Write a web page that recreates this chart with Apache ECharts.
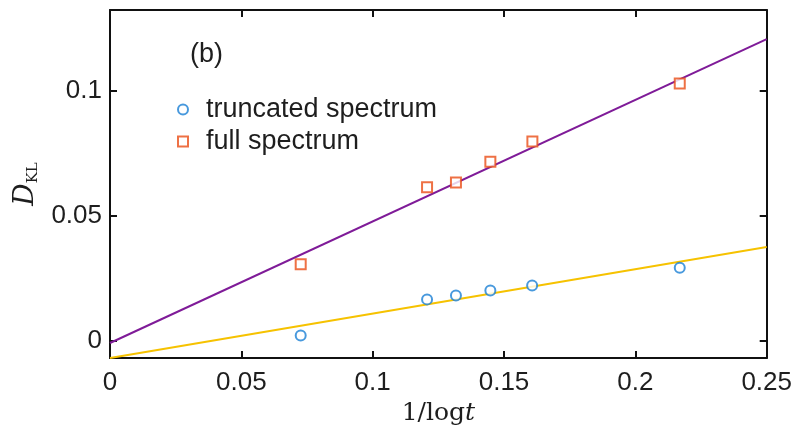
<!DOCTYPE html>
<html>
<head>
<meta charset="utf-8">
<script src="https://cdn.jsdelivr.net/npm/echarts@6/dist/echarts.min.js"></script>
<style>
  html, body { margin: 0; padding: 0; background: #fff; }
  #chart { width: 795px; height: 434px; }
</style>
</head>
<body>
<div id="chart"></div>
<script>
  // 1/log t values and D_KL
  const xTrunc = [0.0726, 0.1207, 0.1317, 0.1448, 0.1607, 0.2169]
  const yTrunc = [0.0020, 0.0165, 0.0181, 0.0201, 0.0221, 0.0292]
  const xFull = [0.0726, 0.1207, 0.1317, 0.1448, 0.1608, 0.2169]
  const yFull = [0.0306, 0.0614, 0.0634, 0.0717, 0.0798, 0.1030]

  // linear fits, end points
  const fitX = [0, 0.25]
  const fitFull = [-0.001, 0.1208]
  const fitTrunc = [-0.007, 0.0375]

  const yTicks = [0, 0.05, 0.1]
  const xTicks = [0, 0.05, 0.1, 0.15, 0.2, 0.25]

  const pairs = (xs, ys) => xs.map((x, i) => [x, ys[i]])

  const sans = 'Liberation Sans, Arial, Helvetica, sans-serif'
  const serif = 'DejaVu Serif, Liberation Serif, serif'
  const labelFont = { fontFamily: sans, fontSize: 26, color: '#1e1e1e' }
  const frameLine = { show: true, onZero: false, lineStyle: { color: '#111', width: 2 } }
  const tick = { show: true, inside: true, length: 7, lineStyle: { color: '#111', width: 2 } }

  const chart = echarts.init(document.getElementById('chart'))
  chart.setOption({
    animation: false,
    backgroundColor: '#fff',
    grid: { left: 110, right: 28, top: 10, bottom: 76 },
    title: {
      text: '(b)',
      left: 185,
      top: 36,
      textStyle: { fontFamily: sans, fontSize: 27, fontWeight: 'normal', color: '#1e1e1e' }
    },
    legend: {
      orient: 'vertical',
      left: 177,
      top: 96,
      padding: 0,
      itemGap: 5,
      itemWidth: 10,
      itemHeight: 10,
      textStyle: { fontFamily: sans, fontSize: 27, lineHeight: 27, color: '#1e1e1e', padding: [0, 0, 0, 13] },
      data: ['truncated spectrum', 'full spectrum']
    },
    xAxis: [{
      type: 'value',
      min: 0,
      max: 0.25,
      interval: 0.05,
      position: 'bottom',
      axisLine: frameLine,
      axisTick: tick,
      splitLine: { show: false },
      axisLabel: Object.assign({ margin: 12, customValues: xTicks }, labelFont),
      name: '{n|1/log}{t|t}',
      nameLocation: 'middle',
      nameGap: 40,
      nameTextStyle: {
        rich: {
          n: { fontFamily: serif, fontSize: 25, color: '#1e1e1e' },
          t: { fontFamily: serif, fontSize: 25, fontStyle: 'italic', color: '#1e1e1e' }
        }
      }
    }, {
      type: 'value',
      min: 0,
      max: 0.25,
      interval: 0.05,
      position: 'top',
      axisLine: frameLine,
      axisTick: tick,
      axisLabel: { show: false },
      splitLine: { show: false }
    }],
    yAxis: [{
      type: 'value',
      min: -0.007,
      max: 0.1325,
      position: 'left',
      axisLine: frameLine,
      axisTick: Object.assign({ customValues: yTicks }, tick),
      splitLine: { show: false },
      axisLabel: Object.assign({ margin: 8, customValues: yTicks }, labelFont),
      name: '{d|D}{s|KL}',
      nameLocation: 'middle',
      nameRotate: 90,
      nameGap: 66,
      nameTextStyle: {
        rich: {
          d: { fontFamily: serif, fontSize: 28, fontStyle: 'italic', color: '#1e1e1e' },
          s: { fontFamily: serif, fontSize: 15, color: '#1e1e1e', padding: [14, 0, 0, 0] }
        }
      }
    }, {
      type: 'value',
      min: -0.007,
      max: 0.1325,
      position: 'right',
      axisLine: frameLine,
      axisTick: Object.assign({ customValues: yTicks }, tick),
      axisLabel: { show: false },
      splitLine: { show: false }
    }],
    series: [{
      name: 'full fit',
      type: 'line',
      data: pairs(fitX, fitFull),
      symbol: 'none',
      lineStyle: { color: '#7f1b98', width: 2 },
      z: 2
    }, {
      name: 'truncated fit',
      type: 'line',
      data: pairs(fitX, fitTrunc),
      symbol: 'none',
      lineStyle: { color: '#f6c200', width: 2 },
      z: 2
    }, {
      name: 'truncated spectrum',
      type: 'scatter',
      data: pairs(xTrunc, yTrunc),
      symbol: 'circle',
      symbolSize: 10,
      itemStyle: { color: '#fff', borderColor: '#1a7fd4', borderWidth: 2 },
      z: 3
    }, {
      name: 'full spectrum',
      type: 'scatter',
      data: pairs(xFull, yFull),
      symbol: 'rect',
      symbolSize: 10,
      itemStyle: { color: '#fff', borderColor: '#ea4d17', borderWidth: 2 },
      z: 3
    }]
  })
</script>
</body>
</html>
